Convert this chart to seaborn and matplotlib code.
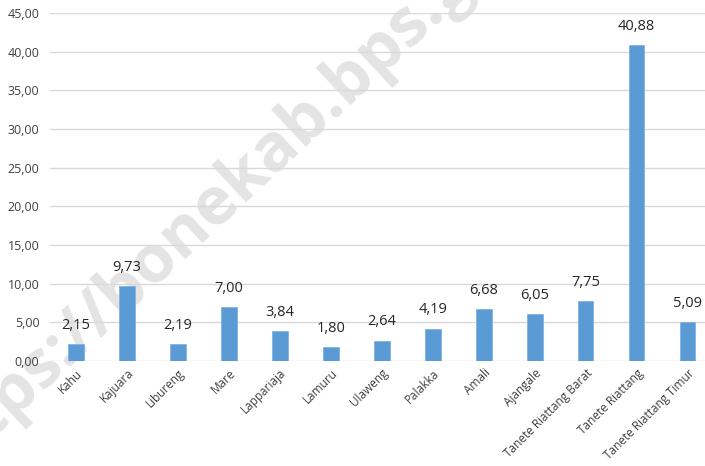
import matplotlib
matplotlib.use("Agg")
import matplotlib.pyplot as plt
import seaborn as sns
import pandas as pd

kecamatan = ["Kahu", "Kajuara", "Libureng", "Mare", "Lappariaja", "Lamuru",
             "Ulaweng", "Palakka", "Amali", "Ajangale", "Tanete Riattang Barat",
             "Tanete Riattang", "Tanete Riattang Timur"]
nilai = [2.15, 9.73, 2.19, 7.00, 3.84, 1.80, 2.64, 4.19, 6.68, 6.05, 7.75, 40.88, 5.09]
y_ticks = [0, 5, 10, 15, 20, 25, 30, 35, 40, 45]

df = pd.DataFrame({"kecamatan": kecamatan, "nilai": nilai})

sns.set_theme(style="white")
plt.rcParams["font.family"] = ["Open Sans", "DejaVu Sans"]

fig = plt.figure(figsize=(7.05, 4.66), dpi=100)
ax = fig.add_axes([0.0716, 0.2253, 0.9397, 0.7468])
ax.patch.set_alpha(0)

sns.barplot(data=df, x="kecamatan", y="nilai", color="#5B9BD5", width=0.31,
            saturation=1, edgecolor="#7FB2E0", linewidth=0.6, ax=ax, zorder=2)

ax.set_ylim(0, 45)
ax.set_xlim(-0.5, 12.5)
ax.set_yticks(y_ticks)
ax.set_yticklabels([f"{v:.2f}".replace(".", ",") for v in y_ticks],
                   fontsize=9, color="#404040")
ax.yaxis.grid(True, color="#D9D9D9", linewidth=1.0)
ax.set_axisbelow(True)
for s in ax.spines.values():
    s.set_visible(False)
ax.tick_params(axis="both", length=0, pad=4)
ax.tick_params(axis="y", pad=8)
ax.set_xlabel("")
ax.set_ylabel("")
plt.setp(ax.get_xticklabels(), rotation=45, ha="right", rotation_mode="anchor",
         fontsize=8.5, color="#404040")

for i, v in enumerate(nilai):
    ax.annotate(f"{v:.2f}".replace(".", ","), (i, v), xytext=(0, 8),
                textcoords="offset points", ha="center", va="bottom",
                fontsize=10.5, color="#262626")

fig.text(0.338, 0.612, "https://bonekab.bps.go.id", rotation=43, fontsize=48,
         fontweight="bold", color="#E4E4E4", ha="center", va="center",
         zorder=-1)

fig.savefig("out.png", dpi=100, facecolor="white")
